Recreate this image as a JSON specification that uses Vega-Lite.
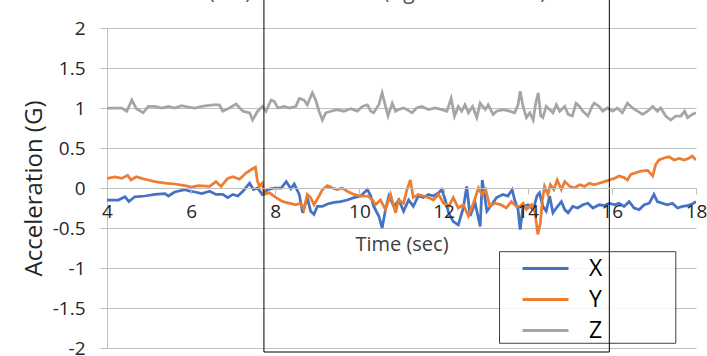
{
  "$schema": "https://vega.github.io/schema/vega-lite/v6.json",
  "width": 589,
  "height": 320,
  "autosize": {"type": "none"},
  "padding": {"left": 107, "top": 28, "right": 11, "bottom": 8},
  "background": "white",
  "title": {"text": "(a-2) Acceleration (right lower arm)", "font": "Open Sans", "fontSize": 21, "fontWeight": "normal", "color": "#595959", "anchor": "middle", "frame": "group", "dx": -24, "offset": -26, "baseline": "bottom"},
  "config": {"font": "Open Sans", "view": {"stroke": null}},
  "resolve": {"axis": {"x": "independent", "y": "independent"}},
  "layer": [
    {
      "data": {"values": [
        {"s":"X","t":4.00,"v":-0.15},{"s":"X","t":4.27,"v":-0.15},{"s":"X","t":4.43,"v":-0.11},{"s":"X","t":4.52,"v":-0.17},{"s":"X","t":4.66,"v":-0.11},{"s":"X","t":4.90,"v":-0.10},{"s":"X","t":5.14,"v":-0.08},{"s":"X","t":5.38,"v":-0.07},{"s":"X","t":5.46,"v":-0.10},{"s":"X","t":5.61,"v":-0.05},{"s":"X","t":5.85,"v":-0.02},{"s":"X","t":5.97,"v":-0.04},{"s":"X","t":6.09,"v":-0.05},{"s":"X","t":6.25,"v":-0.07},{"s":"X","t":6.44,"v":-0.04},{"s":"X","t":6.59,"v":-0.08},{"s":"X","t":6.75,"v":-0.08},{"s":"X","t":6.87,"v":-0.12},{"s":"X","t":6.99,"v":-0.08},{"s":"X","t":7.11,"v":-0.10},{"s":"X","t":7.23,"v":-0.04},{"s":"X","t":7.39,"v":0.06},{"s":"X","t":7.48,"v":-0.02},{"s":"X","t":7.58,"v":0.00},{"s":"X","t":7.69,"v":-0.08},{"s":"X","t":7.82,"v":-0.02},{"s":"X","t":7.98,"v":0.00},{"s":"X","t":8.14,"v":0.00},{"s":"X","t":8.26,"v":0.08},{"s":"X","t":8.37,"v":-0.01},{"s":"X","t":8.45,"v":0.05},{"s":"X","t":8.57,"v":-0.08},{"s":"X","t":8.65,"v":-0.31},{"s":"X","t":8.76,"v":-0.12},{"s":"X","t":8.84,"v":-0.29},{"s":"X","t":8.92,"v":-0.33},{"s":"X","t":9.00,"v":-0.23},{"s":"X","t":9.12,"v":-0.23},{"s":"X","t":9.24,"v":-0.20},{"s":"X","t":9.40,"v":-0.18},{"s":"X","t":9.55,"v":-0.17},{"s":"X","t":9.71,"v":-0.15},{"s":"X","t":9.87,"v":-0.12},{"s":"X","t":10.03,"v":-0.10},{"s":"X","t":10.11,"v":-0.06},{"s":"X","t":10.19,"v":-0.02},{"s":"X","t":10.27,"v":-0.10},{"s":"X","t":10.34,"v":-0.23},{"s":"X","t":10.46,"v":-0.35},{"s":"X","t":10.54,"v":-0.50},{"s":"X","t":10.62,"v":-0.27},{"s":"X","t":10.70,"v":-0.10},{"s":"X","t":10.82,"v":-0.23},{"s":"X","t":10.94,"v":-0.15},{"s":"X","t":11.05,"v":-0.29},{"s":"X","t":11.17,"v":-0.15},{"s":"X","t":11.28,"v":-0.23},{"s":"X","t":11.40,"v":-0.10},{"s":"X","t":11.52,"v":-0.12},{"s":"X","t":11.64,"v":-0.08},{"s":"X","t":11.76,"v":-0.10},{"s":"X","t":11.88,"v":-0.06},{"s":"X","t":11.96,"v":-0.02},{"s":"X","t":12.04,"v":-0.15},{"s":"X","t":12.12,"v":-0.31},{"s":"X","t":12.23,"v":-0.42},{"s":"X","t":12.35,"v":-0.46},{"s":"X","t":12.47,"v":-0.25},{"s":"X","t":12.55,"v":0.02},{"s":"X","t":12.63,"v":-0.35},{"s":"X","t":12.75,"v":-0.19},{"s":"X","t":12.87,"v":-0.48},{"s":"X","t":12.92,"v":0.10},{"s":"X","t":13.03,"v":-0.29},{"s":"X","t":13.14,"v":-0.21},{"s":"X","t":13.26,"v":-0.12},{"s":"X","t":13.41,"v":-0.08},{"s":"X","t":13.53,"v":-0.10},{"s":"X","t":13.63,"v":-0.02},{"s":"X","t":13.69,"v":-0.15},{"s":"X","t":13.77,"v":-0.27},{"s":"X","t":13.82,"v":-0.52},{"s":"X","t":13.89,"v":-0.23},{"s":"X","t":14.01,"v":-0.21},{"s":"X","t":14.13,"v":-0.27},{"s":"X","t":14.22,"v":-0.10},{"s":"X","t":14.28,"v":-0.06},{"s":"X","t":14.36,"v":-0.23},{"s":"X","t":14.44,"v":-0.29},{"s":"X","t":14.52,"v":-0.10},{"s":"X","t":14.60,"v":-0.31},{"s":"X","t":14.68,"v":-0.25},{"s":"X","t":14.80,"v":-0.17},{"s":"X","t":14.88,"v":-0.27},{"s":"X","t":14.96,"v":-0.31},{"s":"X","t":15.07,"v":-0.23},{"s":"X","t":15.19,"v":-0.25},{"s":"X","t":15.31,"v":-0.21},{"s":"X","t":15.43,"v":-0.19},{"s":"X","t":15.55,"v":-0.25},{"s":"X","t":15.70,"v":-0.21},{"s":"X","t":15.82,"v":-0.22},{"s":"X","t":15.94,"v":-0.19},{"s":"X","t":16.06,"v":-0.21},{"s":"X","t":16.17,"v":-0.19},{"s":"X","t":16.29,"v":-0.23},{"s":"X","t":16.41,"v":-0.17},{"s":"X","t":16.53,"v":-0.25},{"s":"X","t":16.65,"v":-0.27},{"s":"X","t":16.77,"v":-0.21},{"s":"X","t":16.89,"v":-0.19},{"s":"X","t":17.00,"v":-0.08},{"s":"X","t":17.08,"v":-0.17},{"s":"X","t":17.20,"v":-0.19},{"s":"X","t":17.32,"v":-0.21},{"s":"X","t":17.44,"v":-0.19},{"s":"X","t":17.56,"v":-0.25},{"s":"X","t":17.68,"v":-0.23},{"s":"X","t":17.80,"v":-0.22},{"s":"X","t":17.91,"v":-0.20},{"s":"X","t":18.00,"v":-0.17},
        {"s":"Y","t":4.00,"v":0.12},{"s":"Y","t":4.19,"v":0.14},{"s":"Y","t":4.35,"v":0.12},{"s":"Y","t":4.49,"v":0.16},{"s":"Y","t":4.57,"v":0.10},{"s":"Y","t":4.70,"v":0.14},{"s":"Y","t":4.82,"v":0.12},{"s":"Y","t":4.98,"v":0.10},{"s":"Y","t":5.14,"v":0.08},{"s":"Y","t":5.38,"v":0.06},{"s":"Y","t":5.61,"v":0.05},{"s":"Y","t":5.85,"v":0.03},{"s":"Y","t":6.01,"v":0.01},{"s":"Y","t":6.17,"v":0.03},{"s":"Y","t":6.44,"v":0.02},{"s":"Y","t":6.59,"v":0.08},{"s":"Y","t":6.71,"v":0.02},{"s":"Y","t":6.87,"v":0.12},{"s":"Y","t":6.99,"v":0.14},{"s":"Y","t":7.15,"v":0.11},{"s":"Y","t":7.31,"v":0.19},{"s":"Y","t":7.46,"v":0.24},{"s":"Y","t":7.53,"v":0.26},{"s":"Y","t":7.57,"v":0.10},{"s":"Y","t":7.62,"v":0.02},{"s":"Y","t":7.69,"v":0.06},{"s":"Y","t":7.74,"v":-0.08},{"s":"Y","t":7.86,"v":-0.06},{"s":"Y","t":8.02,"v":-0.12},{"s":"Y","t":8.18,"v":-0.17},{"s":"Y","t":8.33,"v":-0.19},{"s":"Y","t":8.49,"v":-0.21},{"s":"Y","t":8.60,"v":-0.19},{"s":"Y","t":8.68,"v":-0.27},{"s":"Y","t":8.76,"v":-0.08},{"s":"Y","t":8.84,"v":-0.12},{"s":"Y","t":8.92,"v":-0.21},{"s":"Y","t":9.04,"v":-0.10},{"s":"Y","t":9.12,"v":-0.02},{"s":"Y","t":9.24,"v":0.03},{"s":"Y","t":9.36,"v":0.00},{"s":"Y","t":9.47,"v":-0.02},{"s":"Y","t":9.59,"v":0.00},{"s":"Y","t":9.71,"v":-0.04},{"s":"Y","t":9.87,"v":-0.08},{"s":"Y","t":10.03,"v":-0.10},{"s":"Y","t":10.19,"v":-0.10},{"s":"Y","t":10.31,"v":-0.15},{"s":"Y","t":10.38,"v":-0.21},{"s":"Y","t":10.50,"v":-0.15},{"s":"Y","t":10.62,"v":-0.27},{"s":"Y","t":10.74,"v":-0.08},{"s":"Y","t":10.86,"v":-0.31},{"s":"Y","t":10.93,"v":-0.15},{"s":"Y","t":11.05,"v":-0.19},{"s":"Y","t":11.13,"v":-0.02},{"s":"Y","t":11.21,"v":0.10},{"s":"Y","t":11.28,"v":-0.12},{"s":"Y","t":11.40,"v":-0.08},{"s":"Y","t":11.52,"v":-0.10},{"s":"Y","t":11.64,"v":-0.12},{"s":"Y","t":11.76,"v":-0.15},{"s":"Y","t":11.88,"v":-0.08},{"s":"Y","t":12.00,"v":-0.19},{"s":"Y","t":12.12,"v":-0.23},{"s":"Y","t":12.23,"v":-0.12},{"s":"Y","t":12.35,"v":-0.25},{"s":"Y","t":12.47,"v":-0.21},{"s":"Y","t":12.59,"v":-0.35},{"s":"Y","t":12.71,"v":-0.19},{"s":"Y","t":12.83,"v":0.00},{"s":"Y","t":12.91,"v":-0.08},{"s":"Y","t":13.00,"v":-0.02},{"s":"Y","t":13.10,"v":-0.23},{"s":"Y","t":13.22,"v":-0.19},{"s":"Y","t":13.37,"v":-0.21},{"s":"Y","t":13.49,"v":-0.25},{"s":"Y","t":13.61,"v":-0.17},{"s":"Y","t":13.73,"v":-0.23},{"s":"Y","t":13.81,"v":-0.23},{"s":"Y","t":13.89,"v":-0.19},{"s":"Y","t":13.97,"v":-0.27},{"s":"Y","t":14.09,"v":-0.21},{"s":"Y","t":14.17,"v":-0.29},{"s":"Y","t":14.24,"v":-0.58},{"s":"Y","t":14.30,"v":-0.44},{"s":"Y","t":14.35,"v":-0.15},{"s":"Y","t":14.40,"v":0.02},{"s":"Y","t":14.48,"v":-0.08},{"s":"Y","t":14.54,"v":0.04},{"s":"Y","t":14.62,"v":-0.02},{"s":"Y","t":14.70,"v":0.10},{"s":"Y","t":14.80,"v":-0.02},{"s":"Y","t":14.88,"v":0.08},{"s":"Y","t":15.00,"v":0.02},{"s":"Y","t":15.11,"v":0.00},{"s":"Y","t":15.23,"v":0.04},{"s":"Y","t":15.35,"v":0.02},{"s":"Y","t":15.47,"v":0.06},{"s":"Y","t":15.58,"v":0.04},{"s":"Y","t":15.70,"v":0.06},{"s":"Y","t":15.82,"v":0.08},{"s":"Y","t":15.94,"v":0.10},{"s":"Y","t":16.06,"v":0.12},{"s":"Y","t":16.17,"v":0.15},{"s":"Y","t":16.29,"v":0.13},{"s":"Y","t":16.37,"v":0.10},{"s":"Y","t":16.45,"v":0.17},{"s":"Y","t":16.57,"v":0.19},{"s":"Y","t":16.69,"v":0.21},{"s":"Y","t":16.85,"v":0.22},{"s":"Y","t":16.97,"v":0.15},{"s":"Y","t":17.04,"v":0.29},{"s":"Y","t":17.12,"v":0.35},{"s":"Y","t":17.24,"v":0.375},{"s":"Y","t":17.36,"v":0.39},{"s":"Y","t":17.48,"v":0.35},{"s":"Y","t":17.60,"v":0.37},{"s":"Y","t":17.72,"v":0.35},{"s":"Y","t":17.84,"v":0.375},{"s":"Y","t":17.91,"v":0.40},{"s":"Y","t":18.00,"v":0.35},
        {"s":"Z","t":4.00,"v":1.00},{"s":"Z","t":4.19,"v":1.00},{"s":"Z","t":4.35,"v":1.00},{"s":"Z","t":4.47,"v":0.96},{"s":"Z","t":4.59,"v":1.10},{"s":"Z","t":4.70,"v":0.99},{"s":"Z","t":4.86,"v":0.94},{"s":"Z","t":4.98,"v":1.02},{"s":"Z","t":5.14,"v":1.02},{"s":"Z","t":5.30,"v":1.00},{"s":"Z","t":5.46,"v":1.02},{"s":"Z","t":5.61,"v":1.00},{"s":"Z","t":5.77,"v":1.03},{"s":"Z","t":5.93,"v":1.01},{"s":"Z","t":6.09,"v":1.00},{"s":"Z","t":6.25,"v":1.02},{"s":"Z","t":6.52,"v":1.04},{"s":"Z","t":6.67,"v":1.04},{"s":"Z","t":6.75,"v":0.96},{"s":"Z","t":6.91,"v":1.00},{"s":"Z","t":7.07,"v":1.05},{"s":"Z","t":7.23,"v":0.96},{"s":"Z","t":7.39,"v":0.94},{"s":"Z","t":7.46,"v":0.85},{"s":"Z","t":7.58,"v":0.96},{"s":"Z","t":7.70,"v":1.02},{"s":"Z","t":7.78,"v":0.96},{"s":"Z","t":7.90,"v":1.10},{"s":"Z","t":7.98,"v":1.08},{"s":"Z","t":8.06,"v":1.00},{"s":"Z","t":8.22,"v":1.02},{"s":"Z","t":8.33,"v":1.00},{"s":"Z","t":8.49,"v":1.02},{"s":"Z","t":8.57,"v":1.12},{"s":"Z","t":8.68,"v":1.10},{"s":"Z","t":8.76,"v":1.04},{"s":"Z","t":8.88,"v":1.19},{"s":"Z","t":8.96,"v":1.10},{"s":"Z","t":9.04,"v":0.96},{"s":"Z","t":9.12,"v":0.85},{"s":"Z","t":9.20,"v":0.94},{"s":"Z","t":9.32,"v":0.96},{"s":"Z","t":9.47,"v":0.98},{"s":"Z","t":9.63,"v":0.96},{"s":"Z","t":9.79,"v":0.99},{"s":"Z","t":9.95,"v":0.96},{"s":"Z","t":10.07,"v":1.02},{"s":"Z","t":10.19,"v":1.04},{"s":"Z","t":10.27,"v":0.96},{"s":"Z","t":10.34,"v":0.94},{"s":"Z","t":10.46,"v":1.04},{"s":"Z","t":10.54,"v":1.19},{"s":"Z","t":10.62,"v":1.02},{"s":"Z","t":10.68,"v":0.90},{"s":"Z","t":10.78,"v":1.06},{"s":"Z","t":10.86,"v":0.96},{"s":"Z","t":10.93,"v":0.98},{"s":"Z","t":11.05,"v":1.00},{"s":"Z","t":11.13,"v":0.98},{"s":"Z","t":11.25,"v":0.94},{"s":"Z","t":11.36,"v":1.00},{"s":"Z","t":11.48,"v":1.02},{"s":"Z","t":11.64,"v":0.98},{"s":"Z","t":11.80,"v":1.00},{"s":"Z","t":11.96,"v":0.98},{"s":"Z","t":12.08,"v":0.96},{"s":"Z","t":12.18,"v":1.12},{"s":"Z","t":12.26,"v":0.90},{"s":"Z","t":12.35,"v":1.02},{"s":"Z","t":12.43,"v":0.96},{"s":"Z","t":12.51,"v":1.04},{"s":"Z","t":12.59,"v":0.94},{"s":"Z","t":12.69,"v":1.02},{"s":"Z","t":12.79,"v":0.88},{"s":"Z","t":12.87,"v":1.06},{"s":"Z","t":12.99,"v":0.98},{"s":"Z","t":13.06,"v":1.04},{"s":"Z","t":13.18,"v":0.92},{"s":"Z","t":13.26,"v":0.96},{"s":"Z","t":13.41,"v":0.98},{"s":"Z","t":13.57,"v":0.96},{"s":"Z","t":13.69,"v":0.94},{"s":"Z","t":13.77,"v":1.04},{"s":"Z","t":13.82,"v":1.21},{"s":"Z","t":13.89,"v":1.02},{"s":"Z","t":13.97,"v":0.88},{"s":"Z","t":14.05,"v":0.94},{"s":"Z","t":14.13,"v":0.85},{"s":"Z","t":14.19,"v":1.06},{"s":"Z","t":14.25,"v":1.19},{"s":"Z","t":14.31,"v":0.90},{"s":"Z","t":14.36,"v":0.88},{"s":"Z","t":14.44,"v":1.02},{"s":"Z","t":14.52,"v":0.98},{"s":"Z","t":14.60,"v":0.94},{"s":"Z","t":14.68,"v":1.04},{"s":"Z","t":14.76,"v":0.96},{"s":"Z","t":14.88,"v":1.02},{"s":"Z","t":14.96,"v":0.92},{"s":"Z","t":15.06,"v":0.90},{"s":"Z","t":15.15,"v":1.06},{"s":"Z","t":15.23,"v":1.02},{"s":"Z","t":15.31,"v":0.96},{"s":"Z","t":15.43,"v":0.90},{"s":"Z","t":15.53,"v":1.02},{"s":"Z","t":15.58,"v":1.06},{"s":"Z","t":15.70,"v":1.02},{"s":"Z","t":15.78,"v":0.96},{"s":"Z","t":15.90,"v":1.00},{"s":"Z","t":16.02,"v":0.96},{"s":"Z","t":16.13,"v":1.00},{"s":"Z","t":16.25,"v":0.94},{"s":"Z","t":16.37,"v":1.06},{"s":"Z","t":16.49,"v":1.00},{"s":"Z","t":16.61,"v":0.96},{"s":"Z","t":16.73,"v":0.92},{"s":"Z","t":16.85,"v":0.96},{"s":"Z","t":16.97,"v":1.02},{"s":"Z","t":17.08,"v":0.96},{"s":"Z","t":17.16,"v":1.00},{"s":"Z","t":17.28,"v":0.90},{"s":"Z","t":17.40,"v":0.85},{"s":"Z","t":17.52,"v":0.90},{"s":"Z","t":17.64,"v":0.90},{"s":"Z","t":17.73,"v":0.96},{"s":"Z","t":17.80,"v":0.88},{"s":"Z","t":17.91,"v":0.92},{"s":"Z","t":18.00,"v":0.94}
      ]},
      "mark": {"type": "line", "strokeWidth": 2.75, "clip": true},
      "encoding": {
        "x": {"field": "t", "type": "quantitative",
              "scale": {"domain": [4, 18], "nice": false, "zero": false},
              "axis": {"values": [4, 6, 8, 10, 12, 14, 16, 18], "format": "d", "labelFlush": false, "labelOverlap": false, "labelBound": false, "labelSeparation": 0, "zindex": 2, "offset": -160, "grid": false,
                       "title": "Time (sec)", "titleFontSize": 20, "titleFontWeight": "normal", "titleColor": "#404040", "titlePadding": 13,
                       "labelFontSize": 19, "labelColor": "#262626", "labelPadding": 8,
                       "domainColor": "#bfbfbf", "tickColor": "#bfbfbf", "tickSize": 6}},
        "y": {"field": "v", "type": "quantitative",
              "scale": {"domain": [-2, 2], "nice": false},
              "axis": {"values": [-2, -1.5, -1, -0.5, 0, 0.5, 1, 1.5, 2], "labelExpr": "toString(datum.value)", "labelFlush": false, "labelOverlap": false, "grid": true, "gridColor": "#bfbfbf",
                       "title": "Acceleration (G)", "titleFontSize": 24, "titleFontWeight": "normal", "titleColor": "#262626", "titlePadding": 6,
                       "labelFontSize": 19, "labelColor": "#262626", "labelPadding": 15,
                       "domainColor": "#bfbfbf", "tickColor": "#bfbfbf", "tickSize": 7}},
        "color": {"field": "s", "type": "nominal",
                  "scale": {"domain": ["X", "Y", "Z"], "range": ["#4472C4", "#ED7D31", "#A5A5A5"]},
                  "legend": {"orient": "none", "legendX": 427, "legendY": 229, "title": null, "padding": 0,
                             "symbolType": "M-2.3,0H2.3", "symbolSize": 400, "symbolStrokeWidth": 3,
                             "labelFontSize": 23, "labelColor": "#000000", "labelOffset": 32, "rowPadding": 7}}
      }
    },
    {
      "data": {"values": [{}]},
      "mark": {"type": "rect", "fill": "white", "fillOpacity": 0.85, "stroke": "#404040", "strokeWidth": 1, "clip": false},
      "encoding": {
        "x": {"datum": 13.33, "type": "quantitative", "axis": null},
        "x2": {"datum": 17.52},
        "y": {"datum": -0.796, "type": "quantitative", "axis": null},
        "y2": {"datum": -1.941}
      }
    },
    {
      "data": {"values": [{}]},
      "mark": {"type": "rect", "filled": false, "stroke": "#000000", "strokeWidth": 1, "clip": false},
      "encoding": {
        "x": {"datum": 7.73, "type": "quantitative", "axis": null},
        "x2": {"datum": 15.94},
        "y": {"datum": 2.37, "type": "quantitative", "axis": null},
        "y2": {"datum": -2.05}
      }
    }
  ]
}
